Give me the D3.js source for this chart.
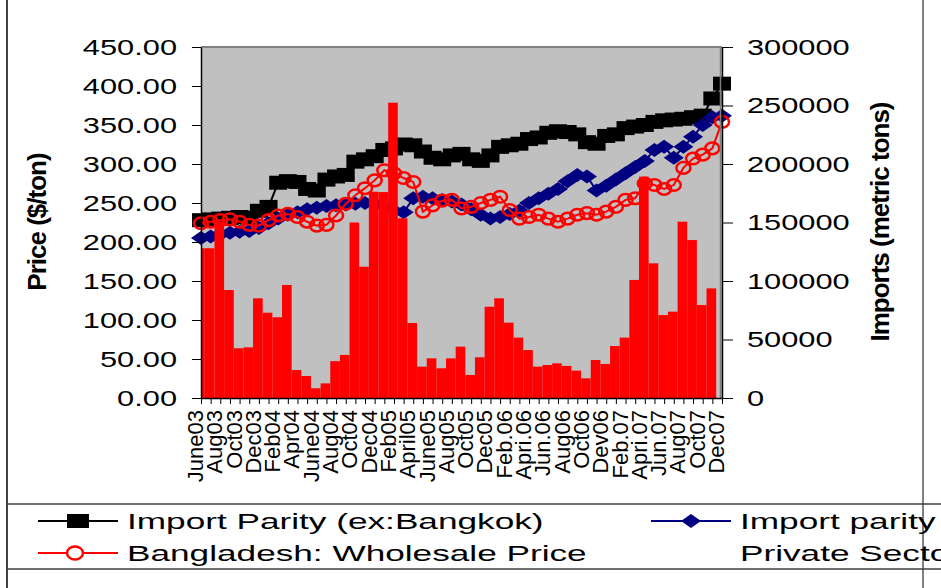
<!DOCTYPE html>
<html>
<head>
<meta charset="utf-8">
<script src="https://cdn.jsdelivr.net/npm/d3@7"></script>
<style>
  body { margin: 0; background: #fff; }
  svg { display: block; font-family: "Liberation Sans", Arial, sans-serif; }
</style>
</head>
<body>
<div id="chart"></div>
<script>
// Monthly categories, June 2003 - December 2007
var months = ["Jun03","Jul03","Aug03","Sep03","Oct03","Nov03","Dec03",
    "Jan04","Feb04","Mar04","Apr04","May04","Jun04","Jul04","Aug04","Sep04","Oct04","Nov04","Dec04",
    "Jan05","Feb05","Mar05","Apr05","May05","Jun05","Jul05","Aug05","Sep05","Oct05","Nov05","Dec05",
    "Jan06","Feb06","Mar06","Apr06","May06","Jun06","Jul06","Aug06","Sep06","Oct06","Nov06","Dec06",
    "Jan07","Feb07","Mar07","Apr07","May07","Jun07","Jul07","Aug07","Sep07","Oct07","Nov07","Dec07"];

// Axis labels as printed (every second month)
var tickLabels = ["June03","Aug03","Oct03","Dec03","Feb04","Apr04","June04","Aug04","Oct04","Dec04",
    "Feb05","April05","June05","Aug05","Oct05","Dec05","Feb.06","Apri.06","Jun.06","Aug06",
    "Oct06","Dev06","Feb.07","Apri.07","Jun.07","Aug07","Oct07","Dec07"];

// Imports (metric tons), right axis
var imports = [128000,128000,150700,92300,42500,43300,85200,72900,69000,96600,23900,18800,8300,12500,
    31500,36800,150000,112200,176300,176000,252400,153600,64100,26800,33900,25400,33900,43900,
    19700,34800,78000,85200,64400,51600,41000,26800,28200,29600,27400,23400,16800,32500,29100,
    44400,51600,100900,189200,115100,70900,73800,150700,135000,79500,93700,null];

// Import Parity (ex:Bangkok), $/ton
var parityBangkok = [228,229,230,231,232,231,240,245,276,278,277,268,266,280,284,286,303,306,310,318,
    320,325,324,316,308,306,311,313,306,304,311,322,324,326,332,334,340,342,341,338,328,326,336,
    338,346,348,350,354,356,357,358,360,362,384,403];

// Import parity Private Sector, $/ton
var parityPrivate = [205,207,210,212,213,214,218,224,230,235,238,242,244,246,247,248,249,250,248,246,
    240,238,256,258,256,254,252,248,242,235,230,232,236,240,250,256,262,268,278,286,284,266,272,
    280,288,296,304,318,322,308,322,335,350,360,362];

// Bangladesh: Wholesale Price, $/ton
var wholesale = [224,226,228,229,226,222,221,228,234,236,232,226,221,222,234,249,260,269,279,292,
    288,282,277,239,247,253,254,243,245,250,254,258,241,230,232,235,230,226,230,235,237,235,239,
    245,254,256,275,273,268,273,295,307,312,320,354];

var width = 941, height = 588;
var plot = { left: 201, right: 722, top: 47, bottom: 398 };
var sx = 1.4;   // horizontal stretch of the axis numbers
var lx = 1.6;   // horizontal stretch of the legend text

var svg = d3.select("#chart").append("svg")
    .attr("width", width)
    .attr("height", height);

svg.append("rect").attr("width", width).attr("height", height).attr("fill", "#fff");

// Scales
var x = d3.scalePoint().domain(months).range([plot.left, plot.right]);
var step = x.step();
var yLeft = d3.scaleLinear().domain([0, 450]).range([plot.bottom, plot.top]);
var yRight = d3.scaleLinear().domain([0, 300000]).range([plot.bottom, plot.top]);

// Plot area
svg.append("rect")
    .attr("x", plot.left).attr("y", plot.top)
    .attr("width", plot.right - plot.left).attr("height", plot.bottom - plot.top)
    .attr("fill", "#c0c0c0");

svg.append("clipPath").attr("id", "plotClip")
    .append("rect")
    .attr("x", plot.left).attr("y", plot.top)
    .attr("width", plot.right - plot.left).attr("height", plot.bottom - plot.top);

// Lines with markers (left axis)
var series = [
    { values: parityBangkok, color: "#000000", marker: "square" },
    { values: parityPrivate, color: "#000080", marker: "diamond" },
    { values: wholesale, color: "#ff0000", marker: "circle" }
];

var line = d3.line()
    .defined(d => d.v != null)
    .x(d => x(d.m))
    .y(d => yLeft(d.v));

series.forEach(function(s) {
    var pts = months.map((m, i) => ({ m: m, v: s.values[i] }));
    var g = svg.append("g");
    g.append("path")
        .datum(pts)
        .attr("fill", "none")
        .attr("stroke", s.color)
        .attr("stroke-width", 2)
        .attr("d", line);
    var mk = g.selectAll(".mk").data(pts.filter(d => d.v != null)).enter();
    if (s.marker == "square") {
        mk.append("rect")
            .attr("x", d => x(d.m) - 9)
            .attr("y", d => yLeft(d.v) - 7)
            .attr("width", 18).attr("height", 14)
            .attr("fill", s.color);
    } else if (s.marker == "diamond") {
        mk.append("path")
            .attr("d", d => {
                var cx = x(d.m), cy = yLeft(d.v);
                return "M" + (cx - 10) + "," + cy + "L" + cx + "," + (cy - 7) +
                    "L" + (cx + 10) + "," + cy + "L" + cx + "," + (cy + 7) + "Z";
            })
            .attr("fill", s.color);
    } else {
        mk.append("ellipse")
            .attr("cx", d => x(d.m))
            .attr("cy", d => yLeft(d.v))
            .attr("rx", 7).attr("ry", 5.8)
            .attr("fill", "none")
            .attr("stroke", s.color)
            .attr("stroke-width", 2.5);
    }
});

// Import bars (right axis), drawn in front
svg.append("g")
    .attr("clip-path", "url(#plotClip)")
    .selectAll("rect")
    .data(months.map((m, i) => ({ m: m, v: imports[i] })).filter(d => d.v != null))
    .enter().append("rect")
    .attr("x", d => x(d.m) - step / 2 - 1)
    .attr("width", step)
    .attr("y", d => yRight(d.v))
    .attr("height", d => plot.bottom - yRight(d.v))
    .attr("fill", "#ff0000");

// Plot border (top)
svg.append("line")
    .attr("x1", plot.left).attr("x2", plot.right)
    .attr("y1", plot.top).attr("y2", plot.top)
    .attr("stroke", "#808080").attr("stroke-width", 2);
svg.append("line")
    .attr("x1", plot.right - 1.5).attr("x2", plot.right - 1.5)
    .attr("y1", plot.top).attr("y2", plot.bottom)
    .attr("stroke", "#808080").attr("stroke-width", 1.5);

// Left axis
var leftAxis = d3.axisLeft(yLeft)
    .tickValues(d3.range(0, 451, 50))
    .tickFormat(d3.format(".2f"))
    .tickSize(9).tickSizeOuter(0);
var gl = svg.append("g")
    .attr("transform", `translate(${plot.left},0)`)
    .call(leftAxis);
gl.select(".domain").attr("stroke", "#000").attr("stroke-width", 1.5);
gl.selectAll(".tick line").attr("stroke", "#000");
gl.selectAll(".tick text")
    .attr("font-size", 22).attr("font-family", "Liberation Sans, Arial, sans-serif")
    .attr("fill", "#000")
    .attr("x", -24 / sx)
    .attr("transform", `scale(${sx},1)`);

// Right axis
var rightAxis = d3.axisRight(yRight)
    .tickValues(d3.range(0, 300001, 50000))
    .tickFormat(d3.format("d"))
    .tickSize(11).tickSizeOuter(0);
var gr = svg.append("g")
    .attr("transform", `translate(${plot.right},0)`)
    .call(rightAxis);
gr.select(".domain").attr("stroke", "#000").attr("stroke-width", 1.5);
gr.selectAll(".tick line").attr("stroke", "#000");
gr.selectAll(".tick text")
    .attr("font-size", 22).attr("font-family", "Liberation Sans, Arial, sans-serif")
    .attr("fill", "#000")
    .attr("x", 25 / sx)
    .attr("transform", `scale(${sx},1)`);

// Bottom axis
var bottomAxis = d3.axisBottom(x).tickSize(6).tickSizeOuter(0).tickFormat("");
var gb = svg.append("g")
    .attr("transform", `translate(0,${plot.bottom})`)
    .call(bottomAxis);
gb.select(".domain").attr("stroke", "#000").attr("stroke-width", 1.5);
gb.selectAll(".tick line").attr("stroke", "#000");

svg.append("g").selectAll("text")
    .data(tickLabels)
    .enter().append("text")
    .attr("transform", (d, k) => `translate(${x(months[k * 2]) + 2},410) rotate(-90)`)
    .attr("text-anchor", "end")
    .attr("font-size", 22)
    .attr("fill", "#000")
    .text(d => d);

// Axis titles
svg.append("text")
    .attr("transform", "translate(46,222) rotate(-90)")
    .attr("text-anchor", "middle")
    .attr("font-size", 26).attr("font-weight", "bold")
    .attr("letter-spacing", -1)
    .text("Price ($/ton)");

svg.append("text")
    .attr("transform", "translate(889,222) rotate(-90)")
    .attr("text-anchor", "middle")
    .attr("font-size", 26).attr("font-weight", "bold")
    .attr("letter-spacing", -1)
    .text("Imports (metric tons)");

// Frame and legend box
svg.append("line").attr("x1", 7).attr("x2", 7).attr("y1", 0).attr("y2", height)
    .attr("stroke", "#000").attr("stroke-width", 1.5);
svg.append("line").attr("x1", 923).attr("x2", 923).attr("y1", 0).attr("y2", height)
    .attr("stroke", "#000").attr("stroke-width", 1);
[504, 569].forEach(function(yy) {
    svg.append("line").attr("x1", 7).attr("x2", width).attr("y1", yy).attr("y2", yy)
        .attr("stroke", "#404040").attr("stroke-width", 1.5);
});

var legend = [
    { x: 38, y: 521, text: "Import Parity (ex:Bangkok)", color: "#000000", marker: "square" },
    { x: 651, y: 521, text: "Import parity", color: "#000080", marker: "diamond" },
    { x: 38, y: 553, text: "Bangladesh: Wholesale Price", color: "#ff0000", marker: "circle" },
    { x: 651, y: 553, text: "Private Sector", color: null, marker: null }
];

legend.forEach(function(l) {
    var g = svg.append("g");
    if (l.color) {
        g.append("line")
            .attr("x1", l.x).attr("x2", l.x + 80)
            .attr("y1", l.y).attr("y2", l.y)
            .attr("stroke", l.color).attr("stroke-width", 2);
        var cx = l.x + 40;
        if (l.marker == "square") {
            g.append("rect").attr("x", cx - 11).attr("y", l.y - 7)
                .attr("width", 22).attr("height", 14).attr("fill", l.color);
        } else if (l.marker == "diamond") {
            g.append("path")
                .attr("d", `M${cx - 10},${l.y}L${cx},${l.y - 7}L${cx + 10},${l.y}L${cx},${l.y + 7}Z`)
                .attr("fill", l.color);
        } else {
            g.append("ellipse").attr("cx", cx - 3).attr("cy", l.y)
                .attr("rx", 8).attr("ry", 6.5)
                .attr("fill", "#fff").attr("stroke", l.color).attr("stroke-width", 2.5);
        }
    }
    g.append("text")
        .attr("x", (l.x + 89) / lx)
        .attr("y", l.y + 8)
        .attr("transform", `scale(${lx},1)`)
        .attr("font-size", 22)
        .attr("fill", "#000")
        .text(l.text);
});
</script>
</body>
</html>
